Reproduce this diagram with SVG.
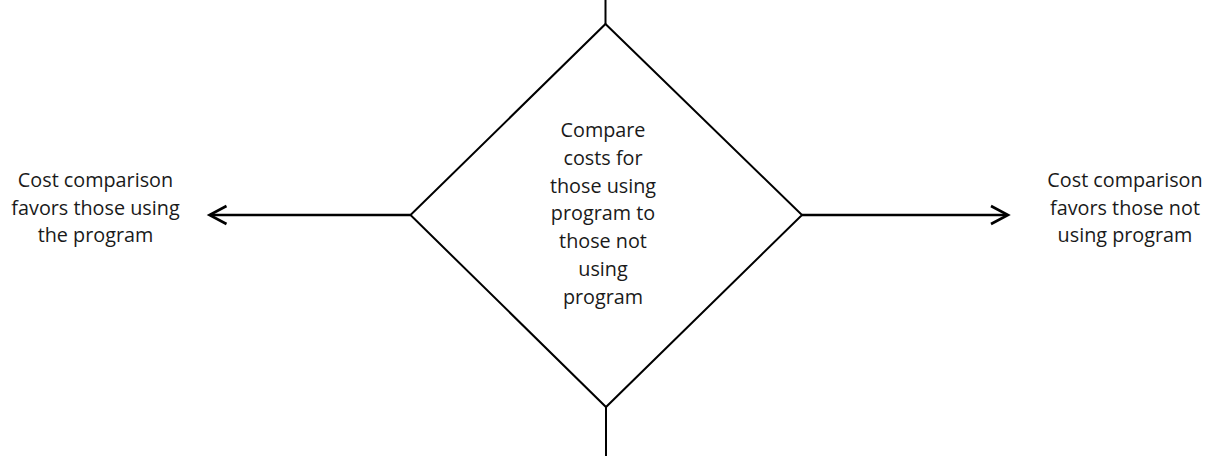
<svg xmlns="http://www.w3.org/2000/svg" width="1215" height="457" viewBox="0 0 1215 457">
  <style>
    .shape { fill: #ffffff; stroke: #000000; stroke-width: 2; }
    .conn { fill: none; stroke: #000000; stroke-width: 2.6; stroke-linecap: butt; }
    .stem { fill: none; stroke: #000000; stroke-width: 2; }
    .head { fill: none; stroke: #000000; stroke-width: 2.6; stroke-linecap: butt; stroke-linejoin: miter; }
    .label { font-family: "Open Sans", "Noto Sans", "DejaVu Sans", sans-serif; font-size: 19.8px; fill: #1a1a1a; text-anchor: middle; }
  </style>
  <rect width="1215" height="457" fill="#ffffff"/>
  <g id="connectors">
    <line class="stem" x1="605.5" y1="0" x2="605.5" y2="24"/>
    <line class="stem" x1="606" y1="407" x2="606" y2="456"/>
    <line class="conn" x1="410.5" y1="215" x2="210" y2="215"/>
    <polyline class="head" points="226.5,206 209.5,215 226.5,224"/>
    <line class="conn" x1="802" y1="215" x2="1007" y2="215"/>
    <polyline class="head" points="991,206 1008,215 991,224"/>
  </g>
  <g id="decision">
    <polygon class="shape" points="605.5,24 802,215 606,407 410.5,215"/>
    <text class="label" x="603" y="137">Compare</text>
    <text class="label" x="603" y="164.8">costs for</text>
    <text class="label" x="603" y="192.6">those using</text>
    <text class="label" x="603" y="220.4">program to</text>
    <text class="label" x="603" y="248.2">those not</text>
    <text class="label" x="603" y="276">using</text>
    <text class="label" x="603" y="303.8">program</text>
  </g>
  <g id="outcome-left">
    <text class="label" x="95.5" y="187">Cost comparison</text>
    <text class="label" x="95.5" y="214.5">favors those using</text>
    <text class="label" x="95.5" y="242">the program</text>
  </g>
  <g id="outcome-right">
    <text class="label" x="1125" y="187">Cost comparison</text>
    <text class="label" x="1125" y="214.5">favors those not</text>
    <text class="label" x="1125" y="242">using program</text>
  </g>
</svg>
